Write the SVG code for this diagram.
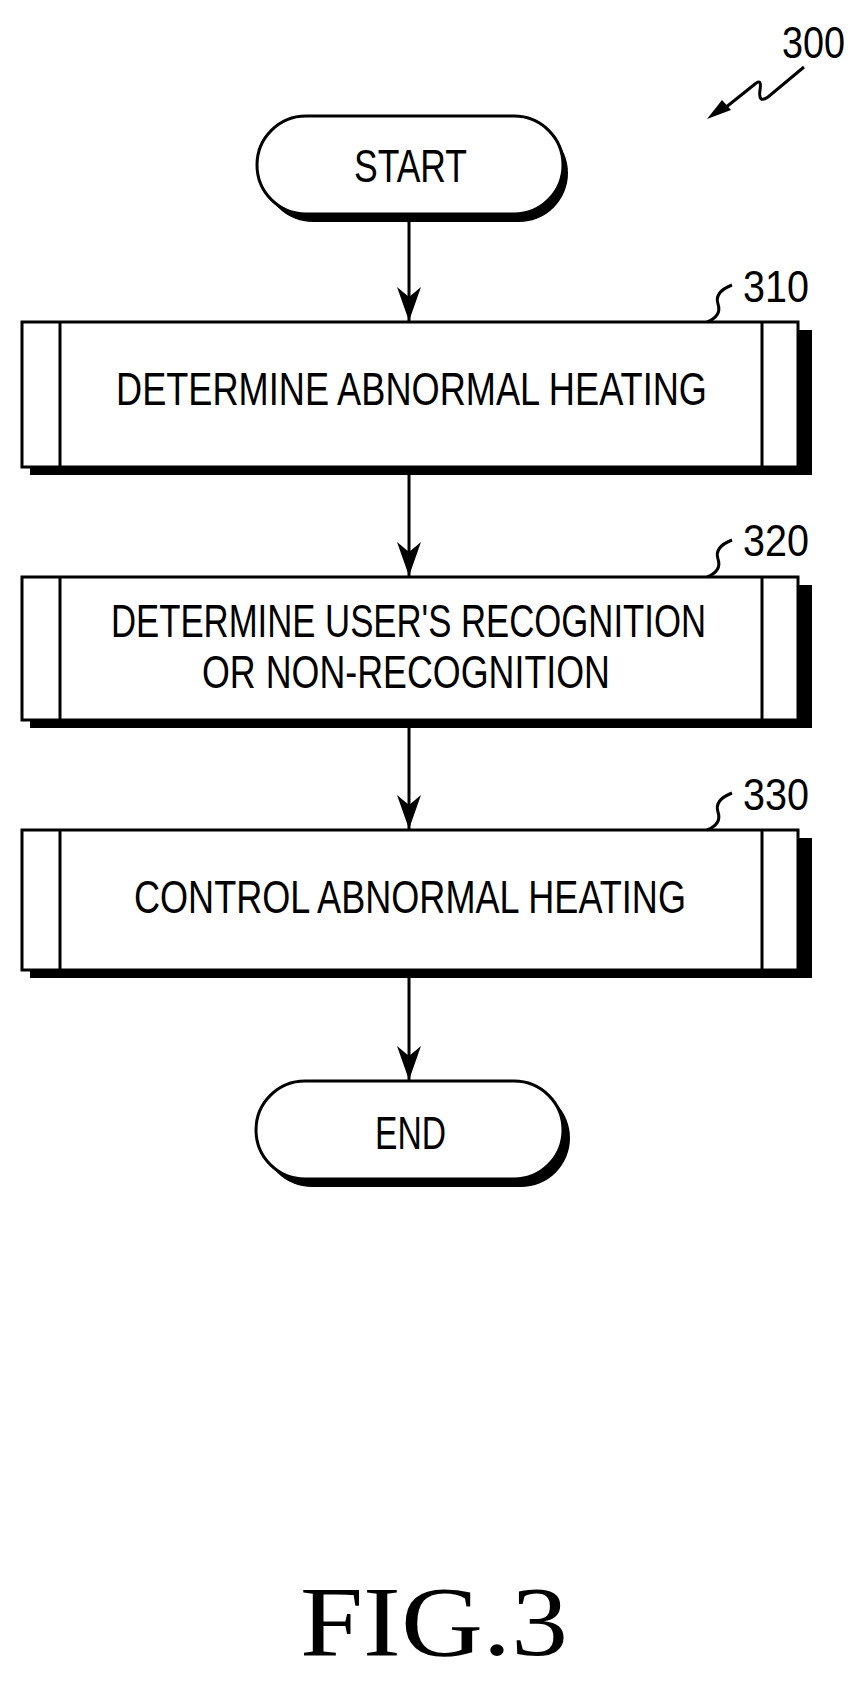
<svg xmlns="http://www.w3.org/2000/svg" width="862" height="1689" viewBox="0 0 862 1689">
<style>
.t{font-family:"Liberation Sans",Arial,sans-serif;font-size:46px;fill:#000}
.l{font-family:"Liberation Sans",Arial,sans-serif;font-size:44px;fill:#000}
.b{fill:#fff;stroke:#000;stroke-width:3}
.s{fill:#000}
.c{fill:none;stroke:#000;stroke-width:3}
</style>
<defs>
<marker id="ar" viewBox="0 0 34 24" refX="34" refY="12" markerWidth="34" markerHeight="24" orient="auto" markerUnits="userSpaceOnUse"><path d="M0,0 L34,12 L0,24 L10,12Z" fill="#000"/></marker></defs>
<g id="ref300">
<text class="l" x="782" y="58" textLength="63" lengthAdjust="spacingAndGlyphs">300</text>
<path class="c" d="M804,67 L768,97 Q758,104 760,90 Q762,78 755,84 L725,108" stroke-width="2.5"/>
<path d="M707,119 L722,100 L731,110Z" fill="#000"/>
</g>
<g id="start">
<rect x="264" y="124" width="304" height="98" rx="49" class="s"/>
<rect x="257" y="116" width="306" height="98" rx="49" class="b"/>
<text class="t" x="354" y="182" textLength="113" lengthAdjust="spacingAndGlyphs">START</text>
</g>
<g id="n310">
<rect x="30" y="330" width="782" height="145" class="s"/>
<rect x="22" y="322" width="776" height="145" class="b"/>
<path class="c" d="M60,322V467M762,322V467"/>
<text class="t" x="116" y="405" textLength="591" lengthAdjust="spacingAndGlyphs">DETERMINE ABNORMAL HEATING</text>
<text class="l" x="743" y="302" textLength="66" lengthAdjust="spacingAndGlyphs">310</text>
<path class="c" d="M707,322 Q722,316 718,304 Q714,292 732,285" stroke-width="2"/>
</g>
<g id="n320">
<rect x="30" y="585" width="782" height="143" class="s"/>
<rect x="22" y="577" width="776" height="143" class="b"/>
<path class="c" d="M60,577V720M762,577V720"/>
<text class="t" x="111" y="637" textLength="595" lengthAdjust="spacingAndGlyphs">DETERMINE USER'S RECOGNITION</text>
<text class="t" x="202" y="688" textLength="408" lengthAdjust="spacingAndGlyphs">OR NON-RECOGNITION</text>
<text class="l" x="743" y="556" textLength="66" lengthAdjust="spacingAndGlyphs">320</text>
<path class="c" d="M707,577 Q722,571 718,559 Q714,547 732,540" stroke-width="2"/>
</g>
<g id="n330">
<rect x="30" y="838" width="782" height="140" class="s"/>
<rect x="22" y="830" width="776" height="140" class="b"/>
<path class="c" d="M60,830V970M762,830V970"/>
<text class="t" x="134" y="913" textLength="552" lengthAdjust="spacingAndGlyphs">CONTROL ABNORMAL HEATING</text>
<text class="l" x="743" y="810" textLength="66" lengthAdjust="spacingAndGlyphs">330</text>
<path class="c" d="M707,830 Q722,824 718,812 Q714,800 732,793" stroke-width="2"/>
</g>
<g id="end">
<rect x="263" y="1089" width="307" height="98" rx="49" class="s"/>
<rect x="256" y="1081" width="307" height="98" rx="49" class="b"/>
<text class="t" x="375" y="1149" textLength="71" lengthAdjust="spacingAndGlyphs">END</text>
</g>
<g id="connectors">
<path class="c" d="M409,222V321" marker-end="url(#ar)"/>
<path class="c" d="M409,475V576" marker-end="url(#ar)"/>
<path class="c" d="M409,728V829" marker-end="url(#ar)"/>
<path class="c" d="M409,978V1080" marker-end="url(#ar)"/>
</g>
<text x="300" y="1655" font-family="Liberation Serif,serif" font-size="100" textLength="268" lengthAdjust="spacingAndGlyphs">FIG.3</text>
</svg>
